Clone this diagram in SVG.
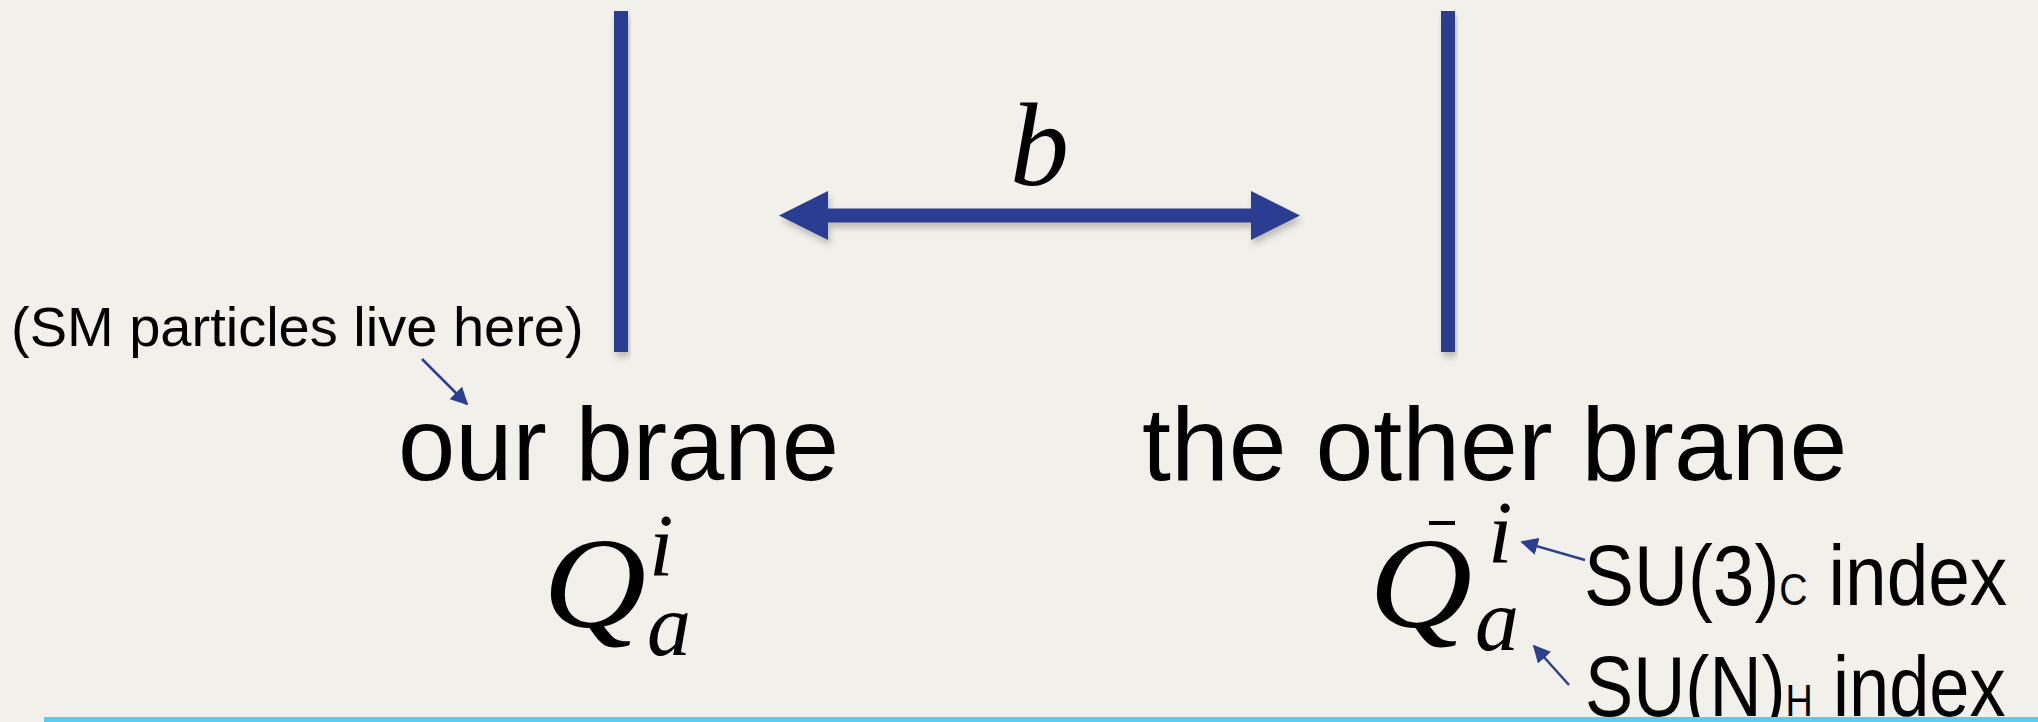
<svg xmlns="http://www.w3.org/2000/svg" width="2038" height="722" viewBox="0 0 2038 722">
  <style>
    .sans { font-family: "Liberation Sans", Arial, sans-serif; fill: #000; }
    .math { font-family: "Liberation Serif", "Times New Roman", serif; font-style: italic; fill: #000; }
    .brane { fill: #2C3E90; }
    .arrowfill { fill: #2C3E90; }
    .thin { stroke: #2C3E90; stroke-width: 2.5; fill: none; }
  </style>
  <defs>
    <filter id="shadow" x="-20%" y="-20%" width="140%" height="140%">
      <feDropShadow dx="2" dy="5" stdDeviation="3" flood-color="#000" flood-opacity="0.22"/>
    </filter>
    <marker id="ah" viewBox="0 0 10 10" refX="9" refY="5" markerWidth="7" markerHeight="7" orient="auto" markerUnits="strokeWidth">
      <path d="M0,0 L10,5 L0,10 z" fill="#2C3E90"/>
    </marker>
  </defs>

  <rect x="0" y="0" width="2038" height="722" fill="#F2F0EB"/>

  <g id="brane-left" filter="url(#shadow)">
    <rect class="brane" x="614" y="11" width="14" height="341"/>
  </g>
  <g id="brane-right" filter="url(#shadow)">
    <rect class="brane" x="1441" y="11" width="14" height="341"/>
  </g>

  <g id="label-sm">
    <text class="sans" x="11" y="346" font-size="56">(SM particles live here)</text>
  </g>
  <g id="label-our-brane">
    <text class="sans" x="398" y="480" font-size="103">our brane</text>
  </g>
  <g id="label-other-brane">
    <text class="sans" x="1142" y="480" font-size="104">the other brane</text>
  </g>
  <g id="label-b">
    <text class="math" x="1010" y="185" font-size="118">b</text>
  </g>
  <g id="math-left">
    <text class="math" transform="translate(543,627) scale(1.1,1)" font-size="130">Q</text>
    <text class="math" x="649" y="575" font-size="88">i</text>
    <text class="math" x="647" y="655" font-size="88">a</text>
  </g>
  <g id="math-right">
    <text class="math" transform="translate(1369,627) scale(1.1,1)" font-size="130">Q</text>
    <rect x="1429" y="521" width="26" height="4" fill="#000"/>
    <text class="math" x="1488" y="562" font-size="88">i</text>
    <text class="math" x="1475" y="650" font-size="88">a</text>
  </g>
  <g id="label-su3">
    <text class="sans" transform="translate(1584,605) scale(0.87,1)" font-size="86">SU(3)<tspan font-size="45">C</tspan> index</text>
  </g>
  <g id="label-sun">
    <text class="sans" transform="translate(1585,716) scale(0.84,1)" font-size="86">SU(N)<tspan font-size="45">H</tspan> index</text>
  </g>

  <g id="connectors">
    <g filter="url(#shadow)">
      <rect class="arrowfill" x="826" y="208.5" width="427" height="14"/>
      <path class="arrowfill" d="M779,215.5 L828,191 L828,240 Z"/>
      <path class="arrowfill" d="M1300,215.5 L1251,191 L1251,240 Z"/>
    </g>
    <line class="thin" x1="422" y1="359" x2="467" y2="404" marker-end="url(#ah)"/>
    <line class="thin" x1="1585" y1="560" x2="1522" y2="542" marker-end="url(#ah)"/>
    <line class="thin" x1="1569" y1="685" x2="1534" y2="646" marker-end="url(#ah)"/>
  </g>

  <rect id="bottom-rule" x="44" y="717" width="1994" height="5" fill="#5BCBF2"/>
</svg>
